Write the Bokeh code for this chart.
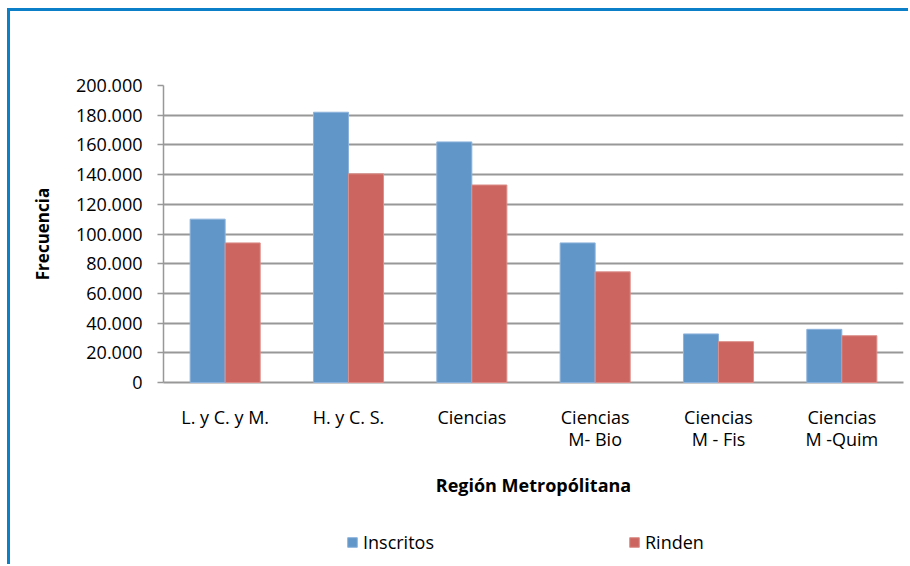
from bokeh.plotting import figure
from bokeh.layouts import column
from bokeh.models import FactorRange, Range1d, FixedTicker, Legend, LegendItem, ColumnDataSource
from bokeh.transform import dodge
from bokeh.embed import file_html
from bokeh.resources import INLINE

categories = ["L. y C. y M.", "H. y C. S.", "Ciencias", "Ciencias\nM- Bio", "Ciencias\nM - Fis", "Ciencias\nM -Quim"]
inscritos = [110000, 182000, 162000, 94000, 32700, 35800]
rinden = [94000, 140500, 133000, 74500, 27500, 31500]
y_ticks = [0, 20000, 40000, 60000, 80000, 100000, 120000, 140000, 160000, 180000, 200000]
y_tick_labels = ["0", "20.000", "40.000", "60.000", "80.000", "100.000", "120.000", "140.000", "160.000", "180.000", "200.000"]
series_names = ["Inscritos", "Rinden"]
x_title = "Región Metropólitana"
y_title = "Frecuencia"

FONT = "Open Sans"
BLUE = "#6096c8"
RED = "#cc655f"
GRID = "#989898"
BLUE_EDGE = "#8db3dc"
RED_EDGE = "#dc8f8a"

src = ColumnDataSource(dict(cat=categories, ins=inscritos, rin=rinden))

p = figure(width=898, height=499, output_backend="svg", toolbar_location=None,
           x_range=FactorRange(factors=categories), y_range=Range1d(0, 200000),
           min_border_left=153, min_border_right=5, min_border_top=74, min_border_bottom=128)
p.outline_line_color = None
p.background_fill_color = "white"
p.border_fill_color = "white"

r1 = p.vbar(x=dodge("cat", -0.142, range=p.x_range), top="ins", width=0.284, source=src,
            fill_color=BLUE, line_color=BLUE_EDGE, line_width=1)
r2 = p.vbar(x=dodge("cat", 0.142, range=p.x_range), top="rin", width=0.284, source=src,
            fill_color=RED, line_color=RED_EDGE, line_width=1)
r1.level = "overlay"
r2.level = "overlay"

# y axis
yax = p.yaxis[0]
yax.ticker = FixedTicker(ticks=y_ticks)
yax.major_label_overrides = {t: l for t, l in zip(y_ticks, y_tick_labels)}
yax.minor_tick_line_color = None
yax.major_tick_in = 0
yax.major_tick_out = 6
yax.major_tick_line_color = GRID
yax.major_tick_line_width = 1.5
yax.axis_line_color = GRID
yax.axis_line_width = 1.5
yax.major_label_text_font = FONT
yax.major_label_text_font_size = "18px"
yax.major_label_text_color = "black"
yax.major_label_standoff = 15
yax.axis_label = y_title
yax.axis_label_text_font = FONT
yax.axis_label_text_font_style = "bold"
yax.axis_label_text_font_size = "17px"
yax.axis_label_text_color = "black"
yax.axis_label_standoff = 19

# x axis
xax = p.xaxis[0]
xax.major_tick_line_color = None
xax.minor_tick_line_color = None
xax.axis_line_color = GRID
xax.axis_line_width = 2
xax.major_label_text_font = FONT
xax.major_label_text_font_size = "18px"
xax.major_label_text_color = "black"
xax.major_label_text_line_height = 0.95
xax.major_label_standoff = 16
xax.axis_label = x_title
xax.axis_label_text_font = FONT
xax.axis_label_text_font_style = "bold"
xax.axis_label_text_font_size = "18px"
xax.axis_label_text_color = "black"
xax.axis_label_standoff = 19

p.xgrid.grid_line_color = None
p.ygrid.grid_line_color = GRID
p.ygrid.grid_line_width = 2

# legend strip below the chart (its frame is aligned with the chart's frame)
q = figure(width=898, height=54, output_backend="svg", toolbar_location=None,
           x_range=Range1d(0, 1), y_range=Range1d(0, 1),
           x_axis_location=None, y_axis_location=None,
           min_border_left=0, min_border_right=0, min_border_top=0, min_border_bottom=0)
q.outline_line_color = None
q.background_fill_color = "white"
q.border_fill_color = "white"
q.xgrid.visible = False
q.ygrid.visible = False
# legend swatches only: one point placed outside the visible range
d1 = q.vbar(x=[-10], top=[-10], width=0.1, fill_color=BLUE, line_color=BLUE_EDGE)
d2 = q.vbar(x=[-10], top=[-10], width=0.1, fill_color=RED, line_color=RED_EDGE)

legend = Legend(items=[LegendItem(label=series_names[0], renderers=[d1]),
                       LegendItem(label=series_names[1], renderers=[d2])],
                orientation="horizontal", location=(183, 10))
legend.padding = 0
legend.margin = 0
legend.border_line_color = None
legend.background_fill_alpha = 0
legend.glyph_width = 12
legend.glyph_height = 12
legend.label_standoff = 5
legend.spacing = 194
legend.label_text_font = FONT
legend.label_text_font_size = "18px"
legend.label_text_color = "black"
q.add_layout(legend, "center")

layout = column(p, q, spacing=0)
layout.styles = {"border-left": "3px solid #0b80c8", "border-top": "3px solid #0b80c8",
                 "margin-left": "7px", "margin-top": "8px"}

open("out.html", "w").write(file_html(layout, INLINE))
